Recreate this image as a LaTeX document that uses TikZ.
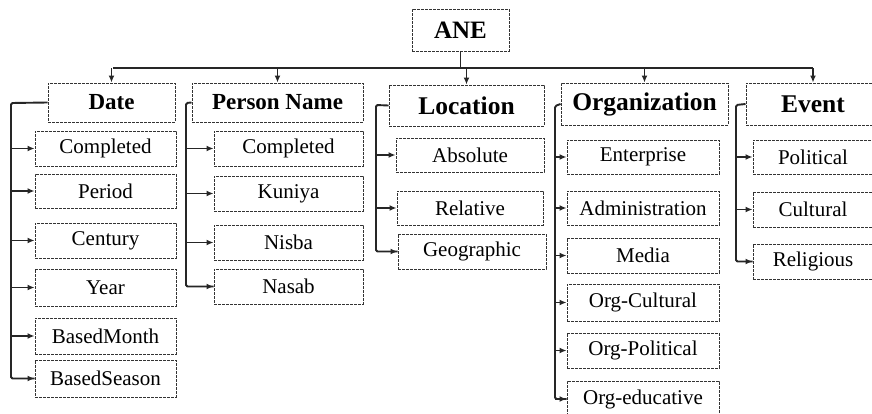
\documentclass[tikz,border=0pt]{standalone}
\usepackage{fontspec}
\setmainfont{Liberation Serif}
\usetikzlibrary{arrows.meta}
\begin{document}
\begin{tikzpicture}[x=1pt,y=-1pt,
  box/.style={draw=black!80, dash pattern=on 2.8pt off 1.2pt, line width=0.95pt, inner sep=0pt, anchor=center},
  cat/.style={box, font=\fontsize{24}{28}\selectfont\bfseries},
  sub/.style={box, font=\fontsize{21}{25}\selectfont},
  conn/.style={draw=black!85, line width=1.9pt, rounded corners=1.5pt},
  arr/.style={conn, -{Latex[length=7pt,width=6pt]}}]
\useasboundingbox (0,0) rectangle (872,413);
\clip (0,0) rectangle (872,413);
% root
\node[cat, font=\fontsize{25}{29}\selectfont\bfseries, minimum width=97pt, minimum height=42pt] (ane) at (460.5,30) {ANE};
% categories
\node[cat, font=\fontsize{23}{27}\selectfont\bfseries, minimum width=127pt, minimum height=39pt] (date) at (111.5,102.5) {Date};
\node[cat, font=\fontsize{23}{27}\selectfont\bfseries, minimum width=171pt, minimum height=39pt] (person) at (277.5,102.5) {Person Name};
\node[cat, font=\fontsize{25.5}{29}\selectfont\bfseries, minimum width=155pt, minimum height=41pt] (loc) at (466.5,105.5) {Location};
\node[cat, font=\fontsize{25.5}{29}\selectfont\bfseries, minimum width=167pt, minimum height=42pt] (org) at (644.5,104) {Organization};
\node[cat, font=\fontsize{25.5}{29}\selectfont\bfseries, minimum width=134pt, minimum height=42pt] (event) at (813,104) {Event};
% Date children
\node[sub, minimum width=141pt, minimum height=35pt] (d1) at (105.5,148.5) {Completed};
\node[sub, minimum width=141pt, minimum height=34pt] (d2) at (105.5,191) {Period};
\node[sub, minimum width=141pt, minimum height=35pt] (d3) at (105.5,240.5) {Century};
\node[sub, minimum width=141pt, minimum height=37pt] (d4) at (105.5,287.5) {Year};
\node[sub, minimum width=141pt, minimum height=36pt] (d5) at (105.5,336) {BasedMonth};
\node[sub, minimum width=141pt, minimum height=37pt] (d6) at (105.5,378.5) {BasedSeason};
% Person children
\node[sub, minimum width=149pt, minimum height=35pt] (p1) at (288.5,148.5) {Completed};
\node[sub, minimum width=149pt, minimum height=35pt] (p2) at (288.5,193.5) {Kuniya};
\node[sub, minimum width=149pt, minimum height=35pt] (p3) at (288.5,242.5) {Nisba};
\node[sub, minimum width=149pt, minimum height=35pt] (p4) at (288.5,286.5) {Nasab};
% Location children
\node[sub, minimum width=148pt, minimum height=34pt] (l1) at (470,155) {Absolute};
\node[sub, minimum width=146pt, minimum height=34pt] (l2) at (470,208) {Relative};
\node[sub, minimum width=148pt, minimum height=35pt] (l3) at (472,251.5) {Geographic};
% Organization children
\node[sub, minimum width=152pt, minimum height=34pt] (o1) at (643,157) {Enterprise};
\node[sub, minimum width=152pt, minimum height=34pt] (o2) at (643,208) {Administration};
\node[sub, minimum width=152pt, minimum height=35pt] (o3) at (643,255.5) {Media};
\node[sub, minimum width=152pt, minimum height=37pt] (o4) at (643,302.5) {Org-Cultural};
\node[sub, minimum width=152pt, minimum height=35pt] (o5) at (643,350.5) {Org-Political};
\node[sub, minimum width=152pt, minimum height=36pt] (o6) at (643,399) {Org-educative};
% Event children
\node[sub, minimum width=120pt, minimum height=34pt] (e1) at (813,157) {Political};
\node[sub, minimum width=120pt, minimum height=35pt] (e2) at (813,209.5) {Cultural};
\node[sub, minimum width=120pt, minimum height=35pt] (e3) at (813,261.5) {Religious};
% top bus
\coordinate (busL) at (113,68);
\coordinate (busR) at (813,68);
\draw[conn] (ane.south) -- (ane.south |- busL);
\draw[conn] (busL) -- (busR);
\foreach \c in {date,person,loc,org,event} \draw[arr] (\c.north |- busL) -- (\c.north);
% trunks
\coordinate (dt) at (11,103);
\coordinate (pt) at (186,103);
\coordinate (lt) at (376,105);
\coordinate (ot) at (555,106);
\coordinate (et) at (736,105);
\draw[conn] (date.west) -- (dt) -- (dt |- d6.west) -- (d6.west);
\draw[conn] (person.west) -- (pt) -- (pt |- p4.west) -- (p4.west);
\draw[conn] (loc.west) -- (lt) -- (lt |- l3.west) -- (l3.west);
\draw[conn] (org.west) -- (ot) -- (ot |- o6.west) -- (o6.west);
\draw[conn] (event.west) -- (et) -- (et |- e3.west) -- (e3.west);
\foreach \n in {d1,d2,d3,d4,d5,d6} \draw[arr] (dt |- \n.west) -- (\n.west);
\foreach \n in {p1,p2,p3,p4} \draw[arr] (pt |- \n.west) -- (\n.west);
\foreach \n in {l1,l2,l3} \draw[arr] (lt |- \n.west) -- (\n.west);
\foreach \n in {o1,o2,o3,o4,o5,o6} \draw[arr] (ot |- \n.west) -- (\n.west);
\foreach \n in {e1,e2,e3} \draw[arr] (et |- \n.west) -- (\n.west);
\end{tikzpicture}
\end{document}
